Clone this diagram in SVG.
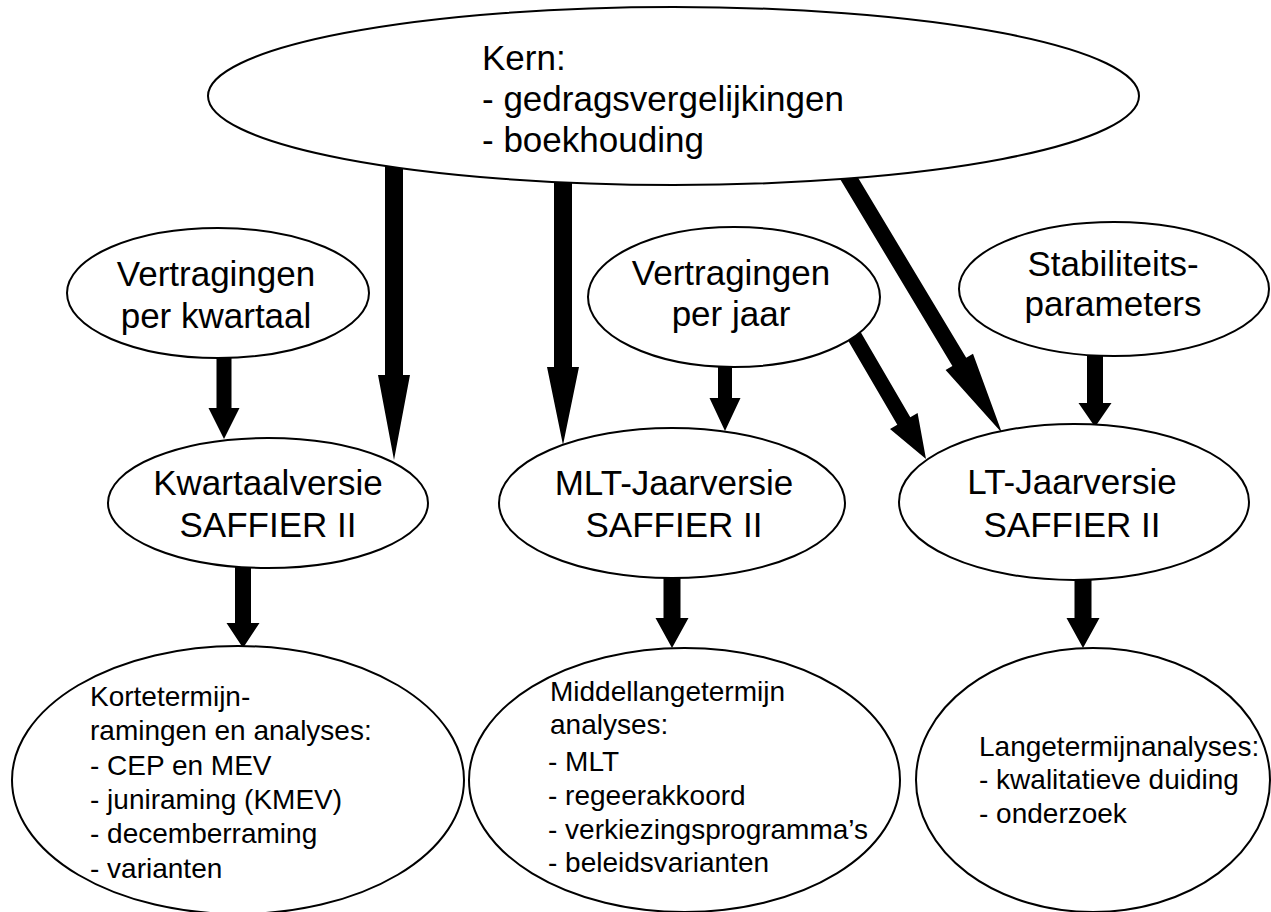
<svg xmlns="http://www.w3.org/2000/svg" width="1271" height="912" viewBox="0 0 1271 912">
<style>
.n ellipse{fill:#fff;stroke:#000;stroke-width:2}
text{font-family:"Liberation Sans",Arial,Helvetica,sans-serif;fill:#000}
.big{font-size:35px}
.mid{font-size:35px;text-anchor:middle}
.sm{font-size:28px}
.c polygon{fill:#000;stroke:none}
</style>
<rect width="1271" height="912" fill="#fff"/>
<g id="connectors" class="c">
<polygon points="385,150 403,150 403,375 410,375 394,460 378,375 385,375"/>
<polygon points="554,150 572,150 572,367 579,367 563,445 547,367 554,367"/>
<polygon points="849.2,163 966.2,357.8 973,353.7 1002,433 945.6,370.1 952.4,366 835.4,171.2"/>
<polygon points="216.5,340 231.5,340 231.5,408 239.5,408 224,439 208.5,408 216.5,408"/>
<polygon points="718,350 732,350 732,398 740.5,398 725,431 709.5,398 718,398"/>
<polygon points="854.5,321.6 910.3,417.2 917.6,412.9 926,459 890,429.1 897.3,424.8 841.5,329.2"/>
<polygon points="1087,340 1103,340 1103,403 1111.5,403 1095,427 1078.5,403 1087,403"/>
<polygon points="235,550 251,550 251,623 259.5,623 243,648 226.5,623 235,623"/>
<polygon points="663.5,560 680.5,560 680.5,618 688.5,618 672,648 655.5,618 663.5,618"/>
<polygon points="1074.5,560 1091.5,560 1091.5,618 1099.5,618 1083,648 1066.5,618 1074.5,618"/>
</g>
<g id="kern" class="n">
<ellipse cx="673.5" cy="96" rx="465.5" ry="89"/>
<text class="big" x="482" y="70">Kern:</text>
<text class="big" x="482" y="111">- gedragsvergelijkingen</text>
<text class="big" x="482" y="152">- boekhouding</text>
</g>
<g id="vertr-kwartaal" class="n">
<ellipse cx="218" cy="293" rx="151" ry="65"/>
<text class="mid" x="216" y="286">Vertragingen</text>
<text class="mid" x="216" y="328">per kwartaal</text>
</g>
<g id="vertr-jaar" class="n">
<ellipse cx="734" cy="297" rx="146" ry="70"/>
<text class="mid" x="731" y="285">Vertragingen</text>
<text class="mid" x="731" y="326">per jaar</text>
</g>
<g id="stabiliteit" class="n">
<ellipse cx="1114" cy="289" rx="155" ry="67"/>
<text class="mid" x="1113" y="276">Stabiliteits-</text>
<text class="mid" x="1113" y="316">parameters</text>
</g>
<g id="kwartaalversie" class="n">
<ellipse cx="268" cy="503" rx="160" ry="65"/>
<text class="mid" x="268" y="495">Kwartaalversie</text>
<text class="mid" x="268" y="537">SAFFIER II</text>
</g>
<g id="mlt-jaarversie" class="n">
<ellipse cx="672" cy="503" rx="173" ry="75"/>
<text class="mid" x="674" y="495">MLT-Jaarversie</text>
<text class="mid" x="674" y="537">SAFFIER II</text>
</g>
<g id="lt-jaarversie" class="n">
<ellipse cx="1074" cy="502" rx="175" ry="78"/>
<text class="mid" x="1072" y="494">LT-Jaarversie</text>
<text class="mid" x="1072" y="537">SAFFIER II</text>
</g>
<g id="korte-termijn" class="n">
<ellipse cx="238" cy="780" rx="226" ry="134"/>
<text class="sm" x="90" y="706">Kortetermijn-</text>
<text class="sm" x="90" y="740">ramingen en analyses:</text>
<text class="sm" x="90" y="775">- CEP en MEV</text>
<text class="sm" x="90" y="809">- juniraming (KMEV)</text>
<text class="sm" x="90" y="843">- decemberraming</text>
<text class="sm" x="90" y="878">- varianten</text>
</g>
<g id="middellange-termijn" class="n">
<ellipse cx="684.5" cy="780" rx="215.5" ry="132"/>
<text class="sm" x="550" y="701">Middellangetermijn</text>
<text class="sm" x="550" y="734">analyses:</text>
<text class="sm" x="548" y="771">- MLT</text>
<text class="sm" x="548" y="805">- regeerakkoord</text>
<text class="sm" x="548" y="839">- verkiezingsprogramma’s</text>
<text class="sm" x="548" y="872">- beleidsvarianten</text>
</g>
<g id="lange-termijn" class="n">
<ellipse cx="1093" cy="780" rx="177" ry="132"/>
<text class="sm" x="979" y="756">Langetermijnanalyses:</text>
<text class="sm" x="979" y="789">- kwalitatieve duiding</text>
<text class="sm" x="979" y="823">- onderzoek</text>
</g>
</svg>
